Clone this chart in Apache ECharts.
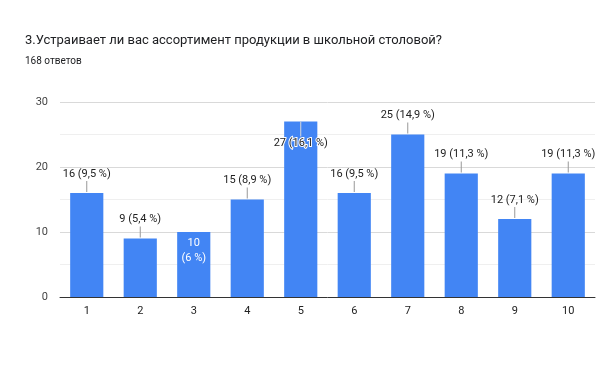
<!DOCTYPE html>
<html>
<head>
<meta charset="utf-8">
<script src="https://cdn.jsdelivr.net/npm/echarts@6/dist/echarts.min.js"></script>
<style>
  html, body { margin: 0; padding: 0; background: #fff; }
  #main { width: 596px; height: 378px; }
</style>
</head>
<body>
<div id="main"></div>
<script>
var categories = ['1', '2', '3', '4', '5', '6', '7', '8', '9', '10'];
var values = [16, 9, 10, 15, 27, 16, 25, 19, 12, 19];
var percents = ['9,5', '5,4', '6', '8,9', '16,1', '9,5', '14,9', '11,3', '7,1', '11,3'];
var yTicks = [0, 10, 20, 30];

var chart = echarts.init(document.getElementById('main'));

// подписи: над столбцом с выноской, у 3 и 5 - внутри
var data = values.map(function (v, i) {
  var item = { value: v };
  if (i === 2) {
    item.label = {
      position: 'insideTop', distance: 4, color: '#fff', lineHeight: 15,
      formatter: v + '\n(' + percents[i] + ' %)'
    };
  } else if (i === 4) {
    item.label = {
      position: 'insideTop', distance: 0,
      formatter: '{l|}\n{d|' + v + ' (' + percents[i] + ' %)}',
      rich: {
        l: { width: 1, height: 15, backgroundColor: '#d8d8d8' },
        d: { color: '#222', fontSize: 11, lineHeight: 14, textBorderColor: '#fff', textBorderWidth: 2 }
      }
    };
  } else {
    item.label = {
      formatter: '{d|' + v + ' (' + percents[i] + ' %)}\n{l|}'
    };
  }
  return item;
});

var option = {
  title: {
    text: '3.Устраивает ли вас ассортимент продукции в школьной столовой?',
    subtext: '168 ответов',
    left: 20,
    top: 29,
    itemGap: 9,
    textStyle: { fontFamily: 'Roboto', fontSize: 13, fontWeight: 'normal', color: '#202124' },
    subtextStyle: { fontFamily: 'Roboto', fontSize: 10, color: '#202124' }
  },
  grid: { left: 60, right: 1, top: 102, bottom: 81 },
  xAxis: {
    type: 'category',
    data: categories,
    axisTick: { show: false },
    axisLine: { lineStyle: { color: '#333', width: 1 } },
    axisLabel: { color: '#222', fontFamily: 'Roboto', fontSize: 11, margin: 9 }
  },
  yAxis: {
    type: 'value',
    min: yTicks[0],
    max: yTicks[yTicks.length - 1],
    interval: 10,
    axisLine: { show: false },
    axisTick: { show: false },
    axisLabel: { color: '#444', fontFamily: 'Roboto', fontSize: 11, margin: 12 },
    splitLine: { lineStyle: { color: '#d9d9d9' } },
    minorTick: { show: false, splitNumber: 2 },
    minorSplitLine: { show: true, lineStyle: { color: '#efefef' } }
  },
  series: [{
    type: 'bar',
    data: data,
    barWidth: '62%',
    itemStyle: { color: '#4285f4' },
    label: {
      show: true,
      position: 'top',
      distance: 1,
      fontFamily: 'Roboto',
      fontSize: 11,
      color: '#222',
      rich: {
        d: { color: '#222', fontFamily: 'Roboto', fontSize: 11, lineHeight: 14 },
        l: { width: 1, height: 11, backgroundColor: '#999' }
      }
    },
    silent: true
  }],
  animation: false
};

chart.setOption(option);
window.addEventListener('resize', chart.resize);
</script>
</body>
</html>
